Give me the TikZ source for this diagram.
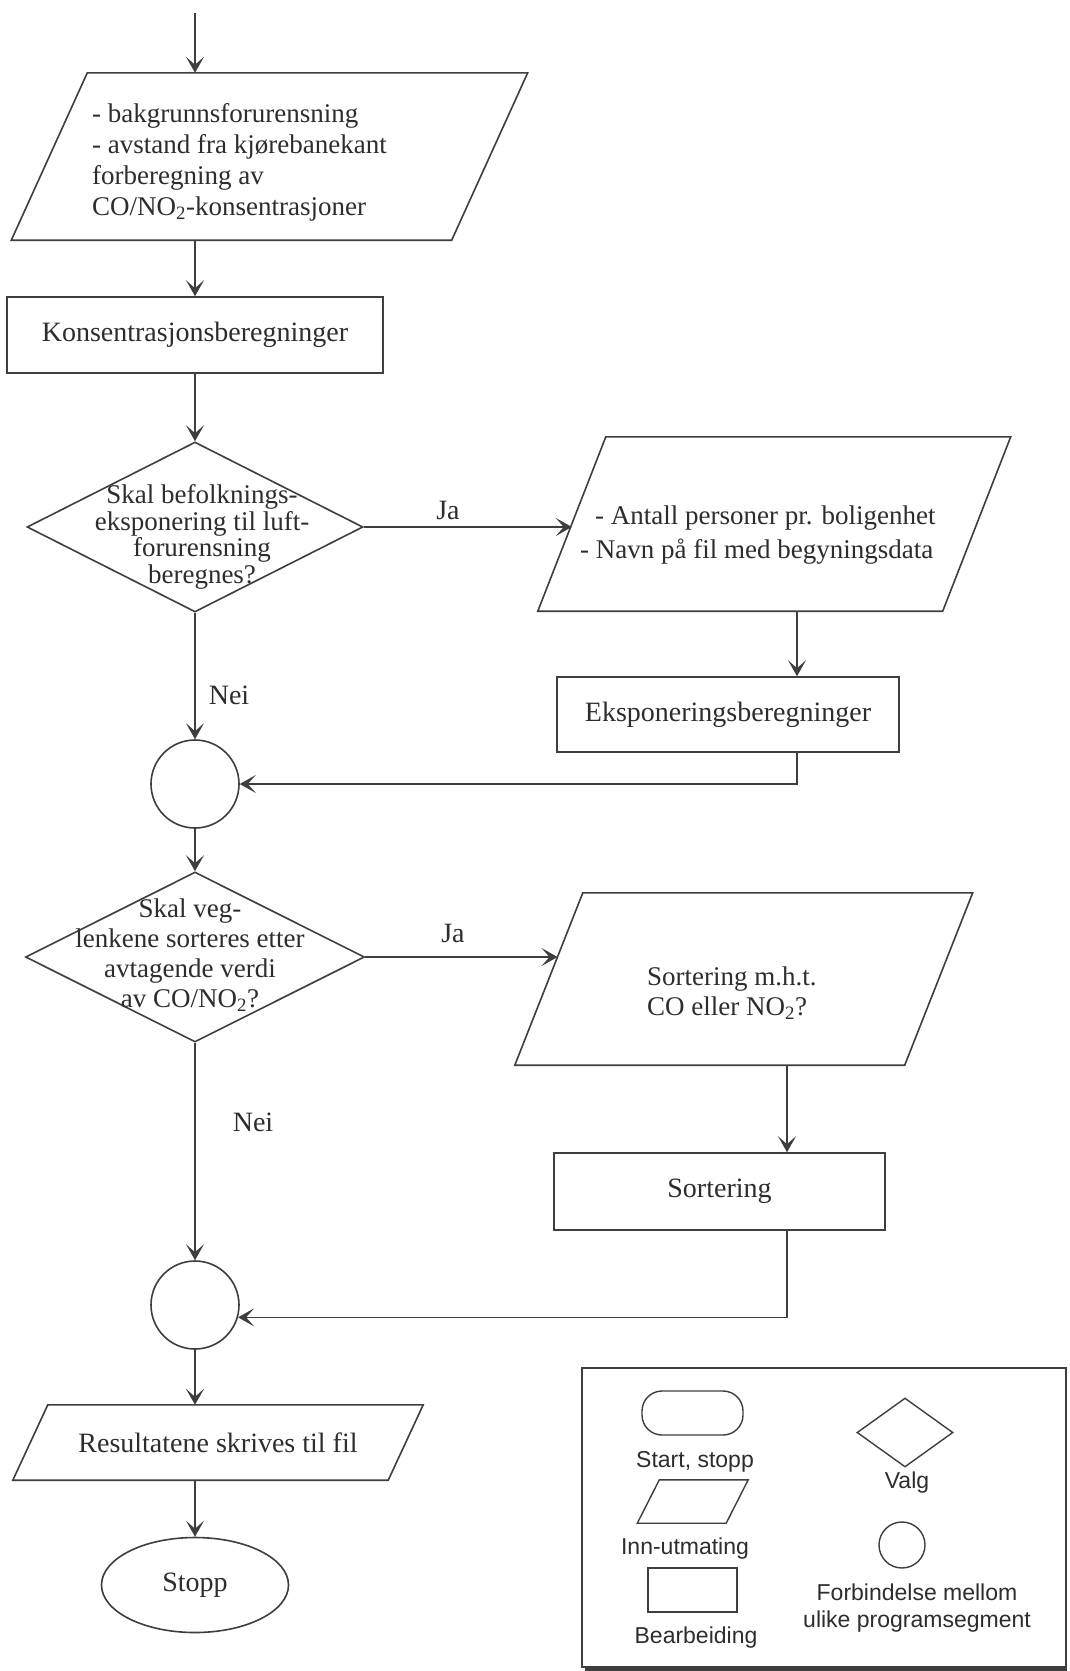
\documentclass[tikz,border=0pt]{standalone}
\usepackage{fontspec}
\setmainfont{Liberation Serif}
\newfontfamily\legfont{Liberation Sans}
\usetikzlibrary{arrows.meta,shapes.geometric}
\definecolor{ink}{RGB}{62,62,62}
\definecolor{txtc}{RGB}{45,45,45}
\newcommand\drawpara[2]{\draw[line, line join=miter] ([xshift=#2pt]#1.north west) -- ([xshift=#2pt]#1.north east) -- ([xshift=-#2pt]#1.south east) -- ([xshift=-#2pt]#1.south west) -- cycle;}
\begin{document}
\begin{tikzpicture}[x=1pt,y=-1pt,
  line/.style={draw=ink, line width=1.6pt},
  arr/.style={line, -{Stealth[length=16pt,width=18pt,inset=8pt]}},
  txt/.style={inner sep=0pt, text=txtc, font=\fontsize{28}{31}\selectfont},
  lbl/.style={txt},
  box/.style={rectangle, draw=ink, line width=1.6pt, inner sep=0pt, text=txtc, font=\fontsize{28}{31}\selectfont},
  io/.style={rectangle, inner sep=0pt},
  dec/.style={diamond, draw=ink, line width=1.6pt, inner sep=0pt},
  con/.style={circle, draw=ink, line width=1.6pt, inner sep=0pt, minimum size=88pt},
  dtxt/.style={inner sep=0pt, text=txtc, align=center, font=\fontsize{27}{26.5}\selectfont},
  dtxtb/.style={inner sep=0pt, text=txtc, align=center, font=\fontsize{27}{30}\selectfont},
  ltxt/.style={inner sep=0pt, text=txtc, font=\legfont\fontsize{23}{27}\selectfont},
  lshape/.style={draw=ink, line width=1.4pt, inner sep=0pt}
]
\fill[white] (0,0) rectangle (1069,1671);
\useasboundingbox (0,0) rectangle (1069,1671);

% input parallelogram 1
\node[io, minimum width=440pt, minimum height=167pt] (p1) at (269.5,156.5) {};
\drawpara{p1}{38}
\node[txt, anchor=west, align=left, font=\fontsize{27}{31}\selectfont] (p1t) at (92,162) {- bakgrunnsforurensning\\- avstand fra kjørebanekant\\forberegning av\\CO/NO\textsubscript{2}-konsentrasjoner};
\coordinate (start) at (195,13);
\draw[arr] (start) -- (start |- p1.north);

% Konsentrasjonsberegninger
\node[box, minimum width=376pt, minimum height=76pt] (k) at (195,335) {Konsentrasjonsberegninger};
\draw[arr] (p1.south -| k.north) -- (k.north);

% decision 1
\node[dec, minimum width=336pt, minimum height=170pt] (d1) at (195,527) {};
\node[dtxt] (d1t) at (202,537) {Skal befolknings-\\eksponering til luft-\\forurensning\\beregnes?};
\draw[arr] (k.south) -- (d1.north);

% input parallelogram 2
\node[io, minimum width=404.5pt, minimum height=174pt] (p2) at (774.25,524) {};
\drawpara{p2}{34}
\node[txt, anchor=west, align=left, font=\fontsize{27}{34}\selectfont] (p2t) at (580,535) {\hspace*{15pt}- Antall personer pr. boligenhet\\- Navn på fil med begyningsdata};
\draw[arr] (d1.east) -- (d1.east -| p2.west);
\node[lbl] (ja1) at (448,510) {Ja};

% Eksponeringsberegninger
\node[box, minimum width=342pt, minimum height=75pt] (e) at (728,714.5) {Eksponeringsberegninger};
\coordinate (x2) at (797,0);
\draw[arr] (p2.south -| x2) -- (e.north -| x2);

% connector 1
\node[con] (c1) at (195,784) {};
\draw[arr] (e.south -| x2) |- (c1.east);
\draw[arr] (d1.south) -- (c1.north);
\node[lbl] (nei1) at (229,695) {Nei};

% decision 2
\node[dec, minimum width=339pt, minimum height=170pt] (d2) at (195,957) {};
\node[dtxtb] (d2t) at (190,955) {Skal veg-\\lenkene sorteres etter\\avtagende verdi\\av CO/NO\textsubscript{2}?};
\draw[arr] (c1.south) -- (d2.north);

% input parallelogram 3
\node[io, minimum width=389.5pt, minimum height=172pt] (p3) at (743.75,979) {};
\drawpara{p3}{34}
\node[txt, anchor=west, align=left, font=\fontsize{27}{30}\selectfont] (p3t) at (647,993) {Sortering m.h.t.\\CO eller NO\textsubscript{2}?};
\draw[arr] (d2.east) -- ([xshift=8.7pt]d2.east -| p3.west);
\node[lbl] (ja2) at (453,933) {Ja};

% Sortering
\node[box, minimum width=331pt, minimum height=77pt] (s) at (719.5,1191.5) {Sortering};
\coordinate (x3) at (787,0);
\draw[arr] (p3.south -| x3) -- (s.north -| x3);

% connector 2
\node[con] (c2) at (195,1305) {};
\draw[arr] (s.south -| x3) |- (c2.-16);
\draw[arr] (d2.south) -- (c2.north);
\node[lbl] (nei2) at (253,1122) {Nei};

% output parallelogram
\node[io, minimum width=375pt, minimum height=75pt] (p4) at (218,1442.5) {};
\drawpara{p4}{17.5}
\node[txt] (p4t) at (218,1443) {Resultatene skrives til fil};
\draw[arr] (c2.south) -- (c2.south |- p4.north);

% stop
\node[ellipse, draw=ink, line width=1.6pt, minimum width=187pt, minimum height=95pt, inner sep=0pt, text=txtc, font=\fontsize{28}{31}\selectfont] (stop) at (195,1585) {Stopp};
\draw[arr] (p4.south -| stop.north) -- (stop.north);

% legend
\node[rectangle, draw=ink, line width=1.6pt, minimum width=484pt, minimum height=299pt] (leg) at (824,1517.5) {};
\draw[draw=ink, line width=3.5pt] ([xshift=4pt,yshift=-1pt]leg.south west) -- ([yshift=-1pt]leg.south east);
\node[lshape, rectangle, rounded corners=20pt, minimum width=101pt, minimum height=44pt] (lstart) at (692.5,1413) {};
\node[ltxt] (lstartt) at (695,1462) {Start, stopp};
\node[io, minimum width=88.5pt, minimum height=43pt] (lio) at (692.75,1501.5) {};
\draw[draw=ink, line width=1.4pt] ([xshift=11pt]lio.north west) -- ([xshift=11pt]lio.north east) -- ([xshift=-11pt]lio.south east) -- ([xshift=-11pt]lio.south west) -- cycle;
\node[ltxt] (liot) at (685,1549) {Inn-utmating};
\node[lshape, rectangle, minimum width=89pt, minimum height=44pt] (lbox) at (692.5,1590) {};
\node[ltxt] (lboxt) at (696,1638) {Bearbeiding};
\node[lshape, diamond, minimum width=96pt, minimum height=69pt] (ldec) at (905,1432.5) {};
\node[ltxt] (ldect) at (907,1483) {Valg};
\node[lshape, circle, minimum size=46pt] (lcon) at (902,1545) {};
\node[ltxt, align=center] (lcont) at (917,1608) {Forbindelse mellom\\ulike programsegment};
\end{tikzpicture}
\end{document}
